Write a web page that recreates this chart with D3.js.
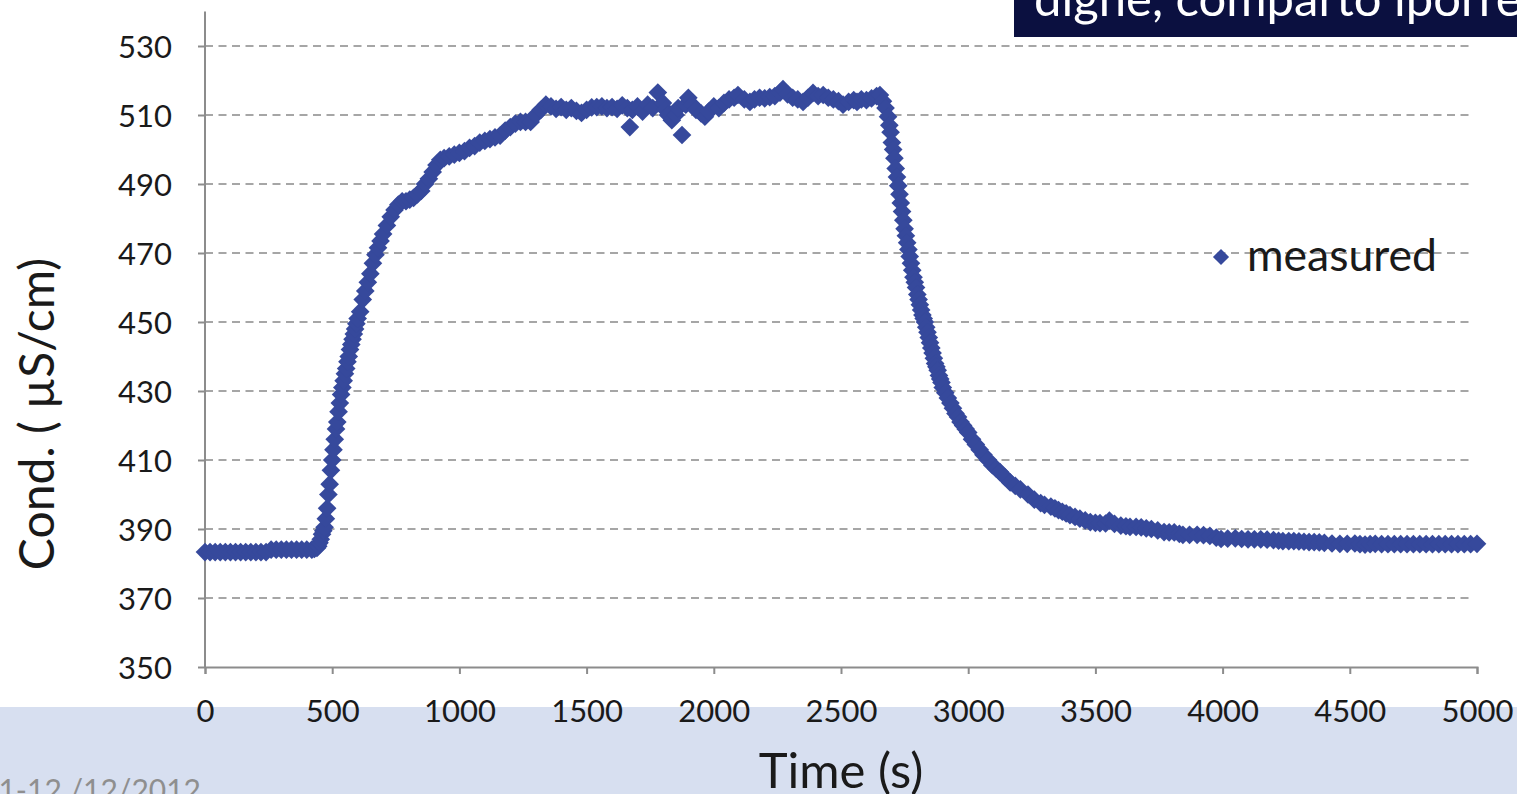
<!DOCTYPE html>
<html>
<head>
<meta charset="utf-8">
<script src="https://cdn.jsdelivr.net/npm/d3@7"></script>
<style>
  html, body { margin: 0; padding: 0; background: #ffffff; overflow: hidden; }
  svg { display: block; }
</style>
</head>
<body>
<svg id="chart" width="1517" height="794"></svg>
<script>
// ---------------- data ----------------
const seriesName = "measured";
const xTicks = [0, 500, 1000, 1500, 2000, 2500, 3000, 3500, 4000, 4500, 5000];
const yTicks = [350, 370, 390, 410, 430, 450, 470, 490, 510, 530];
const xTitle = "Time (s)";
const yTitle = "Cond. ( µS/cm)";
const headerText = "dighe, comparto iporreico";
const footerText = "11-12 /12/2012";

// time (s)
const timeS = [
  0, 20, 40, 60, 80, 100, 120, 140, 160, 180, 200, 220, 240,
  260, 280, 300, 320, 340, 360, 380, 400, 420, 430, 440,
  445, 450, 455, 460, 465, 470, 475, 480, 485, 490, 495, 500, 505, 510, 515, 520,
  525, 530, 535, 540, 545, 550, 555, 560, 565, 570, 575, 580, 585, 590, 595, 600,
  610, 620, 630, 640, 650, 660, 670, 680, 690, 700, 715, 730, 745, 760, 775, 790,
  805, 820, 835, 850, 865, 880, 895, 910, 925, 940, 960, 980, 1000, 1020, 1040,
  1060, 1080, 1100, 1120, 1140, 1160, 1180, 1200, 1220, 1240, 1260, 1280, 1300, 1320,
  1340, 1360, 1380, 1400, 1420, 1440, 1460, 1480, 1500, 1520, 1540, 1560, 1580, 1600,
  1620, 1640, 1660, 1670, 1680, 1700, 1720, 1740, 1760, 1780, 1800, 1810, 1820, 1835,
  1850, 1860, 1875, 1890, 1900, 1915, 1930, 1950, 1965, 1980, 2000, 2020, 2040, 2060,
  2080, 2095, 2120, 2142, 2160, 2180, 2200, 2220, 2240, 2260, 2272, 2290, 2310, 2330,
  2351, 2370, 2390, 2410, 2430, 2450, 2470, 2490, 2508, 2530, 2550, 2563, 2580, 2600,
  2620, 2640, 2653, 2665, 2675, 2685, 2690, 2695, 2700, 2705, 2710, 2715, 2720, 2725,
  2730, 2735, 2740, 2745, 2750, 2755, 2760, 2765, 2770, 2775, 2780, 2785, 2790, 2795,
  2800, 2805, 2810, 2815, 2820, 2825, 2830, 2835, 2840, 2845, 2850, 2855, 2860, 2865,
  2870, 2875, 2880, 2885, 2890, 2895, 2900, 2910, 2920, 2930, 2940, 2950, 2960, 2970,
  2980, 2990, 3000, 3015, 3030, 3045, 3060, 3078, 3095, 3110, 3125, 3145, 3165, 3185,
  3205, 3235, 3260,
  3285, 3300, 3325, 3341, 3355, 3370, 3385, 3400, 3420, 3439,
  3460, 3480, 3500, 3518, 3540, 3555, 3575, 3600, 3620, 3636,
  3660, 3680, 3700, 3720, 3745, 3770, 3790, 3810, 3830, 3844,
  3870, 3900, 3925, 3950, 3975, 3994, 4020, 4050, 4075, 4100,
  4125, 4150, 4175, 4200, 4220, 4237, 4260, 4280, 4300, 4320,
  4340, 4360, 4380, 4400, 4430, 4461, 4490, 4520, 4540, 4560,
  4580, 4600, 4625, 4650, 4675, 4700, 4725, 4750, 4775, 4800,
  4825, 4850, 4875, 4900, 4925, 4950, 4975, 5000
];

// conductivity (µS/cm)
const condUS = [
  383.3, 383.3, 383.3, 383.3, 383.3, 383.3, 383.3, 383.3, 383.3, 383.3, 383.3, 383.3, 383.3,
  384, 384, 384, 384, 384, 384, 384, 384, 384, 384.2, 384.5,
  385, 386, 387, 388.5, 389.5, 390.5, 393, 396, 400, 403, 407, 410, 413, 416, 419, 421,
  424, 426.5, 429, 431, 433, 435, 436.5, 438.5, 440, 442, 443.5, 445, 446.5, 448, 449.5, 451,
  453, 456.5, 459, 461.5, 464, 467, 469.5, 471.5, 473.5, 475.5, 478, 480.5, 482.5, 484, 485, 485,
  485.5, 486, 487, 488, 490, 491.5, 493.5, 495.5, 497, 497.5, 498, 498.5, 499, 499.5, 500.5,
  501, 502, 502.5, 503, 503.5, 504, 505.5, 506.5, 507.5, 508, 508, 508, 510, 511.5,
  513, 512.5, 511.8, 512.3, 511.5, 512, 511.2, 510.6, 511.5, 512.2, 512.3, 512.5, 512, 512.3,
  511.8, 512.8, 512, 506.5, 511.5, 512.5, 511, 513, 512, 516.5, 513.5, 511.5, 510, 508.5,
  510, 512, 504.2, 513, 515, 513, 511.5, 510.5, 509.5, 511, 512.5, 512, 513.5, 514.5,
  515, 515.8, 514.5, 513.8, 514.5, 515, 514.8, 515.2, 515.5, 516.5, 517.5, 516, 515, 514.5,
  513.8, 515, 516.4, 515.5, 515.8, 515, 514.5, 514, 513, 513.8, 514.3, 513.8, 514.5, 514.3,
  514.8, 515.5, 515.8, 514, 512, 509.5, 507, 505, 502, 500, 497.5, 494.5, 492, 489.5,
  487, 484.5, 482, 479.5, 477, 475, 473, 471, 469, 467, 465, 463, 461.5, 460,
  458, 456.5, 455, 453.5, 452, 451, 450, 448.5, 447, 445.5, 444, 442.5, 441, 439.5,
  438, 437, 436, 434.5, 433.5, 432.5, 431, 429.5, 428, 426.5, 425, 423.5, 422.5, 421,
  420, 419, 418, 416, 414.5, 413, 411.5, 410, 408.5, 407.5, 406.5, 405, 403.5, 402.5,
  401.5, 400, 398.5,
  397.5, 397, 396.5, 396, 395.5, 395, 394.5, 394, 393.5, 393,
  392.5, 392, 391.8, 391.7, 391.6, 392.4, 391.5, 391, 390.8, 390.6,
  390.6, 390.5, 390.2, 390, 389.6, 389.1, 389, 389, 388.6, 388.3,
  388.3, 388.3, 388.2, 388, 387.5, 387.1, 387.2, 387.3, 387.1, 387,
  387, 387, 386.9, 386.8, 386.6, 386.5, 386.5, 386.5, 386.4, 386.3,
  386.2, 386.2, 386.1, 386, 385.8, 385.7, 385.7, 385.8, 385.6, 385.5,
  385.6, 385.7, 385.6, 385.6, 385.6, 385.6, 385.6, 385.6, 385.6, 385.6,
  385.6, 385.6, 385.6, 385.6, 385.6, 385.6, 385.6, 385.7
];

// ---------------- drawing ----------------
const W = 1517, H = 794;
const svg = d3.select("#chart");
const FONT = "Lato, 'Open Sans', sans-serif";
const MARK = "#36499c";

// light blue band at the bottom of the slide
svg.append("rect").attr("x", 0).attr("y", 707).attr("width", W).attr("height", H - 707)
  .attr("fill", "#d7dff0");

// footer date (partially cut at the left and bottom edges)
svg.append("text").attr("x", 201).attr("y", 801).attr("text-anchor", "end")
  .attr("font-family", FONT).attr("font-size", 30).attr("fill", "#8f8f8f")
  .text(footerText);

// navy title box (clipped at the top)
svg.append("rect").attr("x", 1014).attr("y", 0).attr("width", W - 1014).attr("height", 37)
  .attr("fill", "#0b1040");
svg.append("text").attr("x", 1034).attr("y", 16)
  .attr("font-family", FONT).attr("font-size", 49).attr("fill", "#ffffff")
  .text(headerText);

const x = d3.scaleLinear().domain([0, 5000]).range([205, 1477]);
const y = d3.scaleLinear().domain([350, 540]).range([667, 11.5]);

// gridlines
svg.append("g")
  .selectAll("line").data(yTicks.filter(v => v !== 350)).join("line")
  .attr("x1", x(0)).attr("x2", 1474)
  .attr("y1", d => y(d)).attr("y2", d => y(d))
  .attr("stroke", "#a6a6a6").attr("stroke-width", 2).attr("stroke-dasharray", "8,5.5");

// y axis
const yAxis = svg.append("g").attr("transform", `translate(${x(0)},0)`)
  .call(d3.axisLeft(y).tickValues(yTicks).tickSize(7).tickPadding(26).tickFormat(d3.format("d")));
yAxis.select(".domain").attr("d", `M0,${y(540)}V${y(350)}`);
// x axis
const xAxis = svg.append("g").attr("transform", `translate(0,${y(350)})`)
  .call(d3.axisBottom(x).tickValues(xTicks).tickSize(7).tickPadding(26).tickFormat(d3.format("d")));

[yAxis, xAxis].forEach(g => {
  g.select(".domain").attr("stroke", "#8c8c8c").attr("stroke-width", 2);
  g.selectAll(".tick line").attr("stroke", "#8c8c8c").attr("stroke-width", 2);
  g.selectAll(".tick text").attr("font-family", FONT).attr("font-size", 31).attr("fill", "#1a1a1a");
});
yAxis.selectAll(".tick text").attr("dy", "0.36em");
xAxis.selectAll(".tick text").attr("dy", "0.72em");

// axis titles
svg.append("text").attr("x", 841).attr("y", 788).attr("text-anchor", "middle")
  .attr("font-family", FONT).attr("font-size", 49).attr("fill", "#1a1a1a").text(xTitle);
svg.append("text").attr("transform", "translate(54,414) rotate(-90)").attr("text-anchor", "middle")
  .attr("font-family", FONT).attr("font-size", 48).attr("fill", "#1a1a1a").text(yTitle);

// diamond marker
const squareDiamond = {
  draw(ctx, size) {
    const r = Math.sqrt(size / 2);
    ctx.moveTo(0, -r); ctx.lineTo(r, 0); ctx.lineTo(0, r); ctx.lineTo(-r, 0); ctx.closePath();
  }
};
const sym = d3.symbol().type(squareDiamond).size(175);
const legendSym = d3.symbol().type(squareDiamond).size(130);

const pts = timeS.map((t, i) => ({ t, v: condUS[i] }));
svg.append("g").selectAll("path").data(pts).join("path")
  .attr("transform", d => `translate(${x(d.t)},${y(d.v)})`)
  .attr("d", sym).attr("fill", MARK);

// legend
const lg = svg.append("g").attr("transform", "translate(1221,257)");
lg.append("path").attr("d", legendSym).attr("fill", MARK);
lg.append("text").attr("x", 26).attr("y", 14).attr("font-family", FONT).attr("font-size", 44.5)
  .attr("fill", "#1a1a1a").text(seriesName);
</script>
</body>
</html>
